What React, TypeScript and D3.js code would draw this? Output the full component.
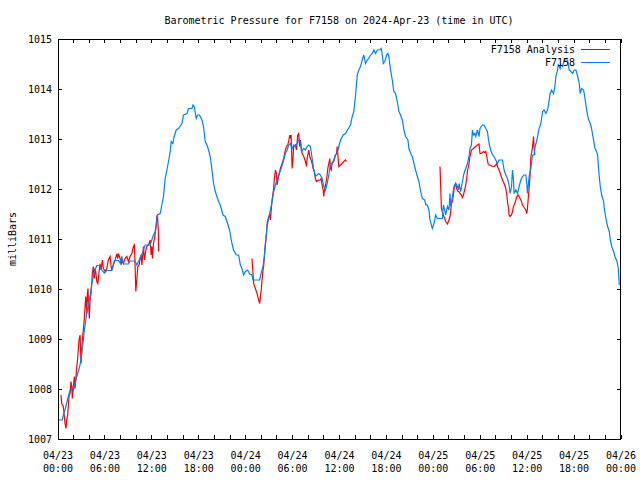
import React from "react";
import * as d3 from "d3";

// ---------- Data (hours since 2024-04-23 00:00 UTC, pressure in mb) ----------
const f7158Hours = [
  0.04, 0.55, 0.68, 0.9, 1.11, 1.32, 1.54, 1.96, 2.18, 2.4, 2.6, 2.82, 3.04, 3.24, 3.37, 3.55, 3.75, 4.01, 4.23, 4.32,
  4.52, 4.74, 4.96, 5.25, 5.6, 5.93, 6.24, 6.88, 7.21, 7.73, 7.94, 8.16, 8.37, 9.01, 9.22, 9.86, 10.08, 10.5, 10.8, 11.15,
  11.79, 12.21, 12.43, 12.72, 13.07, 13.28, 13.49, 13.71, 13.93, 14.13, 14.35, 14.48, 14.69, 14.86, 15.12, 15.41, 15.85, 16.05, 16.49, 16.69,
  17.13, 17.26, 17.42, 17.68, 17.85, 18.1, 18.41, 18.61, 18.83, 19.13, 19.47, 19.69, 19.9, 20.11, 20.54, 20.75, 21.1, 21.39, 21.69, 21.94,
  22.25, 22.46, 22.8, 23.1, 23.32, 23.53, 23.74, 23.96, 24.25, 24.51, 24.81, 24.94, 25.79, 25.97, 26.22, 26.39, 26.52, 26.74, 26.94, 27.16,
  27.38, 27.58, 27.93, 28.22, 28.53, 28.86, 29.08, 29.3, 29.5, 29.72, 29.94, 30.14, 30.36, 30.58, 30.78, 31.0, 31.13, 31.43, 31.64, 31.86,
  32.07, 32.28, 32.5, 32.71, 32.92, 33.14, 33.35, 33.56, 33.78, 33.99, 34.21, 34.42, 34.63, 34.85, 35.06, 35.27, 35.49, 35.7, 35.91, 36.13,
  36.47, 36.77, 37.06, 37.41, 37.63, 37.83, 38.05, 38.18, 38.27, 38.47, 38.69, 38.91, 39.11, 39.33, 39.55, 39.75, 39.97, 40.19, 40.39, 40.61,
  40.83, 41.16, 41.34, 41.47, 41.6, 41.8, 42.02, 42.19, 42.31, 42.53, 42.75, 42.95, 43.17, 43.39, 43.6, 43.81, 44.03, 44.24, 44.45, 44.75,
  44.88, 45.1, 45.31, 45.52, 45.73, 45.95, 46.16, 46.38, 46.59, 46.89, 47.05, 47.23, 47.44, 47.57, 47.87, 48.08, 48.3, 48.51, 49.16, 49.28,
  49.45, 49.58, 49.8, 50.0, 50.13, 50.22, 50.44, 50.64, 50.86, 51.08, 51.21, 51.28, 51.5, 51.72, 51.92, 52.14, 52.36, 52.56, 52.69, 52.87,
  53.0, 53.13, 53.3, 53.42, 53.64, 53.84, 53.97, 54.15, 54.28, 54.48, 54.7, 54.92, 55.0, 55.13, 55.34, 55.56, 55.77, 55.98, 56.2, 56.41,
  56.84, 57.05, 57.27, 57.48, 57.69, 57.82, 58.0, 58.12, 58.25, 58.33, 58.55, 58.76, 58.97, 59.19, 59.4, 59.61, 59.83, 59.96, 60.04, 60.25,
  60.47, 60.6, 60.69, 60.89, 61.02, 61.24, 61.4, 61.53, 61.75, 61.97, 62.17, 62.39, 62.61, 62.81, 62.94, 63.12, 63.38, 63.54, 63.67, 63.89,
  63.97, 64.22, 64.31, 64.53, 64.73, 65.17, 65.37, 65.59, 65.81, 66.01, 66.23, 66.36, 66.53, 66.66, 66.78, 66.96, 67.22, 67.39, 67.51, 67.64,
  67.81, 68.07, 68.24, 68.37, 68.5, 68.67, 68.79, 69.01, 69.09, 69.22, 69.35, 69.53, 69.78, 69.86, 70.08, 70.29, 70.5, 70.63, 70.81, 71.06,
  71.23, 71.49, 71.65, 71.78,
];
const f7158Mb = [
  1007.38, 1007.38, 1007.48, 1007.58, 1007.72, 1007.85, 1007.97, 1007.97, 1008.12, 1008.25, 1008.35, 1008.48, 1008.72, 1008.98, 1009.18, 1009.38, 1009.58, 1009.78, 1009.98, 1010.12,
  1010.25, 1010.38, 1010.47, 1010.47, 1010.38, 1010.32, 1010.37, 1010.37, 1010.57, 1010.57, 1010.52, 1010.65, 1010.5, 1010.5, 1010.56, 1010.56, 1010.48, 1010.62, 1010.72, 1010.88,
  1010.88, 1011.08, 1011.15, 1011.48, 1011.51, 1011.68, 1011.85, 1012.21, 1012.38, 1012.55, 1012.75, 1012.95, 1012.91, 1013.05, 1013.18, 1013.21, 1013.31, 1013.48, 1013.51, 1013.61,
  1013.61, 1013.68, 1013.65, 1013.41, 1013.48, 1013.48, 1013.38, 1013.25, 1012.95, 1012.85, 1012.65, 1012.38, 1012.11, 1011.95, 1011.75, 1011.68, 1011.48, 1011.45, 1011.31, 1011.18,
  1010.91, 1010.78, 1010.68, 1010.68, 1010.48, 1010.41, 1010.28, 1010.35, 1010.38, 1010.3, 1010.28, 1010.18, 1010.18, 1010.31, 1010.45, 1010.65, 1010.91, 1011.25, 1011.41, 1011.58,
  1011.75, 1011.95, 1012.15, 1012.28, 1012.41, 1012.58, 1012.71, 1012.78, 1012.88, 1012.91, 1012.81, 1012.88, 1012.85, 1012.91, 1012.98, 1012.95, 1012.75, 1012.81, 1012.78, 1012.85,
  1012.88, 1012.85, 1012.61, 1012.38, 1012.25, 1012.28, 1012.31, 1012.28, 1012.21, 1012.05, 1011.98, 1012.11, 1012.28, 1012.51, 1012.51, 1012.55, 1012.68, 1012.71, 1012.85, 1012.98,
  1013.08, 1013.11, 1013.19, 1013.28, 1013.45, 1013.55, 1013.88, 1014.11, 1014.28, 1014.38, 1014.45, 1014.58, 1014.68, 1014.51, 1014.58, 1014.61, 1014.68, 1014.71, 1014.78, 1014.71,
  1014.78, 1014.78, 1014.81, 1014.68, 1014.51, 1014.55, 1014.68, 1014.71, 1014.65, 1014.38, 1014.18, 1013.95, 1013.91, 1013.75, 1013.55, 1013.48, 1013.38, 1013.18, 1013.05, 1012.98,
  1012.81, 1012.71, 1012.65, 1012.51, 1012.38, 1012.25, 1012.15, 1011.95, 1011.81, 1011.78, 1011.68, 1011.68, 1011.58, 1011.38, 1011.21, 1011.31, 1011.48, 1011.41, 1011.41, 1011.68,
  1011.58, 1011.48, 1011.65, 1011.58, 1011.91, 1011.65, 1011.85, 1012.05, 1012.11, 1012.05, 1011.98, 1012.11, 1011.95, 1012.15, 1012.31, 1012.41, 1012.51, 1012.65, 1012.81, 1012.88,
  1013.18, 1013.08, 1013.11, 1013.05, 1013.18, 1013.05, 1013.21, 1013.25, 1013.28, 1013.28, 1013.21, 1013.15, 1013.05, 1012.91, 1012.78, 1012.68, 1012.65, 1012.58, 1012.51, 1012.58,
  1012.58, 1012.38, 1012.28, 1012.21, 1012.08, 1011.91, 1012.05, 1012.38, 1012.18, 1011.91, 1011.98, 1011.91, 1012.05, 1012.18, 1012.25, 1012.28, 1012.28, 1012.08, 1011.91, 1012.25,
  1012.41, 1012.58, 1012.68, 1012.68, 1012.85, 1012.98, 1013.11, 1013.21, 1013.31, 1013.55, 1013.58, 1013.51, 1013.58, 1013.78, 1013.91, 1013.98, 1013.91, 1014.05, 1014.25, 1014.38,
  1014.48, 1014.41, 1014.48, 1014.45, 1014.58, 1014.58, 1014.38, 1014.35, 1014.31, 1014.38, 1014.38, 1014.31, 1014.21, 1014.11, 1013.91, 1014.01, 1013.98, 1013.81, 1013.68, 1013.55,
  1013.41, 1013.31, 1013.21, 1013.08, 1012.98, 1012.81, 1012.78, 1012.68, 1012.48, 1012.25, 1012.05, 1011.88, 1011.75, 1011.61, 1011.41, 1011.25, 1011.15, 1010.98, 1010.85, 1010.75,
  1010.65, 1010.55, 1010.41, 1010.08,
];

// Analysis series: three separate segments
const analysisSeg1: [number, number][] = [
  [0.38, 1007.88], [0.47, 1007.71], [0.68, 1007.65], [0.9, 1007.31], [1.02, 1007.21], [1.11, 1007.38], [1.24, 1007.48], [1.32, 1007.65],
  [1.41, 1007.85], [1.54, 1007.91], [1.67, 1008.15], [1.76, 1008.05], [1.83, 1007.81], [1.96, 1008.05], [2.09, 1008.25], [2.18, 1008.01],
  [2.27, 1008.18], [2.4, 1008.45], [2.52, 1008.61], [2.6, 1008.81], [2.69, 1008.98], [2.82, 1009.08], [2.95, 1008.51], [3.04, 1008.78],
  [3.11, 1008.98], [3.24, 1009.18], [3.37, 1009.41], [3.46, 1009.65], [3.55, 1009.85], [3.68, 1009.51], [3.75, 1009.91], [3.84, 1010.01],
  [3.88, 1009.78], [4.01, 1009.41], [4.1, 1009.78], [4.23, 1009.91], [4.32, 1010.11], [4.39, 1010.31], [4.52, 1010.45], [4.65, 1010.21],
  [4.74, 1010.41], [4.83, 1010.35], [4.96, 1010.15], [5.09, 1010.11], [5.16, 1010.21], [5.38, 1010.51], [5.51, 1010.38], [5.68, 1010.58],
  [5.8, 1010.41], [5.93, 1010.38], [6.02, 1010.35], [6.24, 1010.41], [6.44, 1010.58], [6.66, 1010.65], [6.79, 1010.45], [6.88, 1010.38],
  [7.08, 1010.48], [7.3, 1010.58], [7.52, 1010.7], [7.65, 1010.61], [7.73, 1010.71], [7.94, 1010.61], [8.07, 1010.48], [8.16, 1010.58],
  [8.37, 1010.51], [8.58, 1010.61], [8.8, 1010.65], [9.01, 1010.55], [9.22, 1010.65], [9.44, 1010.71], [9.65, 1010.85], [9.77, 1010.88],
  [9.86, 1010.45], [9.95, 1009.95], [10.08, 1010.18], [10.21, 1010.45], [10.38, 1010.48], [10.5, 1010.61], [10.63, 1010.68], [10.72, 1010.48],
  [10.93, 1010.85], [11.06, 1010.58], [11.15, 1010.68], [11.24, 1010.78], [11.36, 1010.85], [11.57, 1010.88], [11.79, 1010.98], [11.91, 1010.68],
  [12.0, 1010.85], [12.08, 1010.61], [12.21, 1010.91], [12.34, 1011.01], [12.43, 1011.11], [12.55, 1011.25], [12.64, 1011.45], [12.72, 1011.48],
  [12.85, 1011.11], [12.86, 1010.75],
];
const analysisSeg2: [number, number][] = [
  [24.81, 1010.61], [24.94, 1010.31], [25.02, 1010.11], [25.24, 1010.01], [25.46, 1009.91], [25.66, 1009.78], [25.79, 1009.71], [25.97, 1009.95],
  [26.1, 1010.18], [26.22, 1010.38], [26.3, 1010.45], [26.39, 1010.65], [26.52, 1010.88], [26.65, 1011.08], [26.74, 1011.31], [26.94, 1011.45],
  [27.07, 1011.48], [27.16, 1011.38], [27.38, 1011.78], [27.58, 1012.01], [27.67, 1012.21], [27.8, 1012.38], [27.93, 1012.31], [28.02, 1012.08],
  [28.09, 1012.15], [28.22, 1012.25], [28.44, 1012.41], [28.66, 1012.51], [28.86, 1012.61], [29.08, 1012.78], [29.21, 1012.85], [29.38, 1012.88],
  [29.5, 1012.95], [29.63, 1013.08], [29.72, 1013.01], [29.81, 1013.08], [29.94, 1012.41], [30.07, 1012.65], [30.14, 1012.85], [30.36, 1012.88],
  [30.49, 1012.78], [30.66, 1013.08], [30.78, 1013.11], [30.91, 1012.85], [31.0, 1012.98], [31.13, 1012.81], [31.22, 1012.71], [31.43, 1012.65],
  [31.64, 1012.55], [31.77, 1012.45], [31.86, 1012.61], [32.07, 1012.78], [32.19, 1012.65], [32.37, 1012.58], [32.5, 1012.51], [32.63, 1012.41],
  [32.8, 1012.35], [32.92, 1012.21], [33.05, 1012.15], [33.35, 1012.18], [33.56, 1012.18], [33.65, 1012.21], [33.78, 1012.08], [33.91, 1011.98],
  [33.99, 1011.85], [34.08, 1011.98], [34.21, 1012.08], [34.33, 1012.18], [34.42, 1012.28], [34.5, 1012.41], [34.63, 1012.51], [34.76, 1012.61],
  [34.85, 1012.41], [34.94, 1012.38], [35.06, 1012.51], [35.27, 1012.58], [35.4, 1012.65], [35.49, 1012.68], [35.62, 1012.71], [35.7, 1012.85],
  [35.78, 1012.71], [35.91, 1012.45], [36.13, 1012.48], [36.34, 1012.51], [36.55, 1012.55], [36.77, 1012.58], [36.89, 1012.55],
];
const analysisSeg3: [number, number][] = [
  [48.85, 1012.45], [48.94, 1012.05], [49.03, 1011.61], [49.16, 1011.55], [49.28, 1011.48], [49.45, 1011.41], [49.58, 1011.35], [49.8, 1011.3],
  [50.0, 1011.38], [50.13, 1011.45], [50.22, 1011.55], [50.31, 1011.71], [50.44, 1011.75], [50.56, 1011.88], [50.64, 1011.98], [50.77, 1012.08],
  [50.86, 1012.11], [50.99, 1012.01], [51.15, 1011.95], [51.28, 1011.95], [51.41, 1011.91], [51.59, 1011.88], [51.72, 1011.83], [51.85, 1011.88],
  [52.01, 1011.98], [52.14, 1012.08], [52.27, 1012.21], [52.36, 1012.35], [52.56, 1012.51], [52.69, 1012.65], [52.87, 1012.78], [53.13, 1012.81],
  [53.42, 1012.85], [53.64, 1012.88], [53.84, 1012.9], [53.97, 1012.71], [54.15, 1012.71], [54.4, 1012.75], [54.57, 1012.73], [54.7, 1012.75],
  [54.83, 1012.65], [55.0, 1012.51], [55.13, 1012.48], [55.34, 1012.47], [55.56, 1012.45], [55.77, 1012.45], [55.98, 1012.48], [56.11, 1012.51],
  [56.2, 1012.45], [56.41, 1012.38], [56.63, 1012.28], [56.84, 1012.18], [57.05, 1012.11], [57.27, 1012.01], [57.4, 1011.88], [57.48, 1011.75],
  [57.61, 1011.61], [57.69, 1011.48], [57.82, 1011.45], [58.0, 1011.48], [58.12, 1011.55], [58.25, 1011.65], [58.42, 1011.71], [58.55, 1011.78],
  [58.68, 1011.85], [58.84, 1011.88], [58.97, 1011.85], [59.1, 1011.81], [59.28, 1011.75], [59.4, 1011.68], [59.61, 1011.63], [59.83, 1011.58],
  [59.96, 1011.51], [60.04, 1011.61], [60.12, 1011.78], [60.25, 1012.01], [60.38, 1012.28], [60.47, 1012.65], [60.6, 1012.75], [60.69, 1012.85],
  [60.82, 1013.05], [60.89, 1012.81], [60.98, 1012.68],
];

const yTicks = [1007, 1008, 1009, 1010, 1011, 1012, 1013, 1014, 1015];
const xLabelHours = [0, 6, 12, 18, 24, 30, 36, 42, 48, 54, 60, 66, 72];
const xLabelDates = ["04/23", "04/23", "04/23", "04/23", "04/24", "04/24", "04/24", "04/24", "04/25", "04/25", "04/25", "04/25", "04/26"];
const xLabelTimes = ["00:00", "06:00", "12:00", "18:00", "00:00", "06:00", "12:00", "18:00", "00:00", "06:00", "12:00", "18:00", "00:00"];

const TITLE = "Barometric Pressure for F7158 on 2024-Apr-23 (time in UTC)";
const Y_LABEL = "milliBars";
const LEGEND = ["F7158 Analysis", "F7158"];
const RED = "#ff0000";
const BLUE = "#0080ff";

const W = 640, H = 480;
const left = 58, right = 621, top = 39, bottom = 439;
const FONT = "'DejaVu Sans Mono', 'Liberation Mono', monospace";
const FS = 10;

export default function App() {
  const x = d3.scaleLinear().domain([0, 72]).range([left, right]);
  const y = d3.scaleLinear().domain([1007, 1015]).range([bottom, top]);
  const line = d3.line<[number, number]>().x((d) => x(d[0])).y((d) => y(d[1]));
  const bluePts: [number, number][] = f7158Hours.map((h, i) => [h, f7158Mb[i]]);
  const minorX = d3.range(0, 72.001, 2);
  const tick = 4;

  return (
    <svg width={W} height={H} style={{ position: "absolute", left: 0, top: 0, background: "#fff" }} fontFamily={FONT} fontSize={FS}>
      <rect x={0} y={0} width={W} height={H} fill="#fff" />
      <text x={339} y={20} textAnchor="middle" dominantBaseline="central" fill="#000">{TITLE}</text>
      <text transform={`translate(12,${(top + bottom) / 2}) rotate(-90)`} textAnchor="middle" dominantBaseline="central" fill="#000">{Y_LABEL}</text>

      {/* ticks */}
      <g stroke="#000" strokeWidth={1} shapeRendering="crispEdges">
        {yTicks.map((t) => (
          <g key={"y" + t}>
            <line x1={left} x2={left + tick} y1={y(t)} y2={y(t)} />
            <line x1={right} x2={right - tick} y1={y(t)} y2={y(t)} />
          </g>
        ))}
        {minorX.map((h) => (
          <g key={"x" + h}>
            <line x1={x(h)} x2={x(h)} y1={bottom} y2={bottom - tick} />
            <line x1={x(h)} x2={x(h)} y1={top} y2={top + tick} />
          </g>
        ))}
      </g>
      {yTicks.map((t) => (
        <text key={"yl" + t} x={left - 6} y={y(t)} textAnchor="end" dominantBaseline="central" fill="#000">{t}</text>
      ))}
      {xLabelHours.map((h, i) => (
        <g key={"xl" + h}>
          <text x={x(h)} y={455} textAnchor="middle" dominantBaseline="central" fill="#000">{xLabelDates[i]}</text>
          <text x={x(h)} y={468} textAnchor="middle" dominantBaseline="central" fill="#000">{xLabelTimes[i]}</text>
        </g>
      ))}

      {/* series */}
      <g fill="none" strokeWidth={1.2} strokeLinejoin="miter">
        {[analysisSeg1, analysisSeg2, analysisSeg3].map((seg, i) => (
          <path key={"r" + i} d={line(seg) || ""} stroke={RED} />
        ))}
        <path d={line(bluePts) || ""} stroke={BLUE} />
      </g>

      {/* legend */}
      <text x={575} y={49} textAnchor="end" dominantBaseline="central" fill="#000">{LEGEND[0]}</text>
      <line x1={581} x2={610} y1={49.5} y2={49.5} stroke={RED} strokeWidth={1} />
      <text x={575} y={62} textAnchor="end" dominantBaseline="central" fill="#000">{LEGEND[1]}</text>
      <line x1={581} x2={610} y1={62.5} y2={62.5} stroke={BLUE} strokeWidth={1} />

      {/* border */}
      <rect x={left + 0.5} y={top + 0.5} width={right - left - 1} height={bottom - top} fill="none" stroke="#000" strokeWidth={1} />
    </svg>
  );
}
